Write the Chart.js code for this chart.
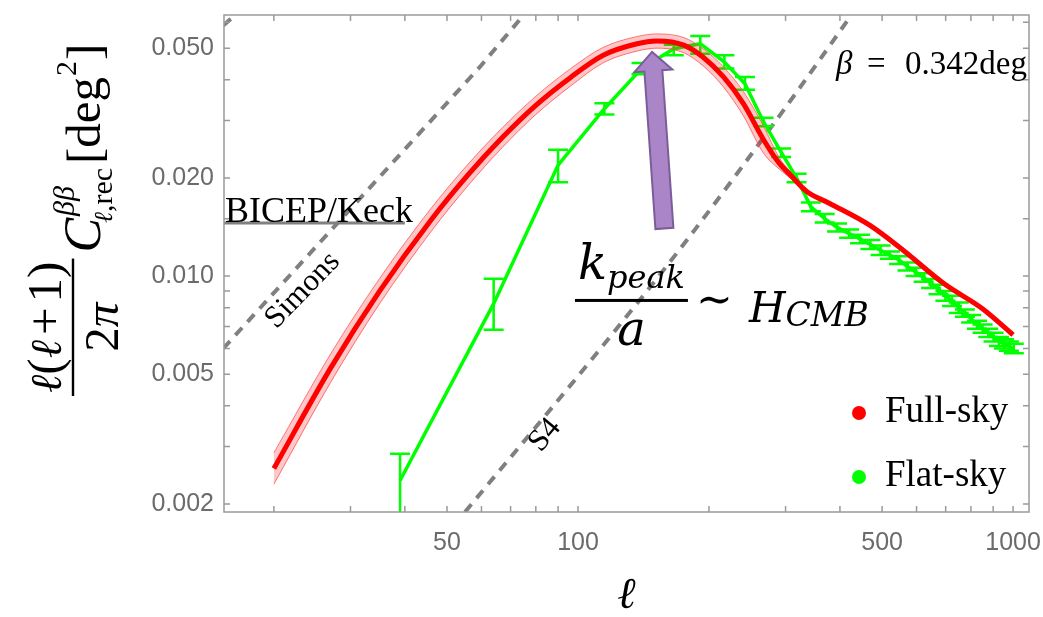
<!DOCTYPE html>
<html>
<head>
<meta charset="utf-8">
<title>Rotation spectrum</title>
<script src="https://cdn.jsdelivr.net/npm/chart.js@4.4.1/dist/chart.umd.min.js"></script>
<style>
  html, body { margin: 0; padding: 0; background: #fff; }
  #wrap { width: 1043px; height: 617px; position: relative; }
</style>
</head>
<body>
<div id="wrap"><canvas id="spectrumChart"></canvas></div>
<script>
// Full-sky curve and its pink band
const fullSkyL  = [20, 27, 35, 46, 56, 67, 80, 96, 114, 136, 152, 175, 194, 216, 240, 267, 290, 307, 335, 379, 469, 559, 692, 855, 1000];
const fullSkyV  = [0.00257, 0.00522, 0.00899, 0.01489, 0.0205, 0.0266, 0.0334, 0.0406, 0.0475, 0.0515, 0.0526, 0.0511, 0.0469, 0.0408, 0.0338, 0.0262, 0.0222, 0.0205, 0.0182, 0.0167, 0.0143, 0.0120, 0.0095, 0.0079, 0.0066];
const fullSkyLo = [0.00230, 0.00472, 0.00823, 0.01372, 0.0190, 0.0248, 0.0313, 0.0382, 0.0450, 0.0489, 0.0500, 0.0484, 0.0441, 0.0380, 0.0310, 0.0238, 0.0213, 0.0200, 0.0180, 0.0167, 0.0143, 0.0120, 0.0095, 0.0079, 0.0066];
const fullSkyHi = [0.00287, 0.00577, 0.00983, 0.01616, 0.0221, 0.0285, 0.0356, 0.0432, 0.0502, 0.0542, 0.0553, 0.0539, 0.0498, 0.0438, 0.0368, 0.0288, 0.0231, 0.0210, 0.0184, 0.0167, 0.0143, 0.0120, 0.0095, 0.0079, 0.0066];

// Flat-sky binned points with error bars
const flatSkyL  = [39, 64, 90, 115, 140, 166, 191, 217, 242, 267, 293, 318, 343, 369, 394, 420, 445, 470, 496, 521, 547, 572, 597, 623, 648, 674, 699, 724, 750, 775, 801, 826, 851, 877, 902, 928, 953, 978, 1004];
const flatSkyV  = [0.00236, 0.00823, 0.0219, 0.0326, 0.0433, 0.0498, 0.0516, 0.0453, 0.0389, 0.0297, 0.0240, 0.0200, 0.0163, 0.0150, 0.0141, 0.0135, 0.0130, 0.0125, 0.0120, 0.0116, 0.0112, 0.0107, 0.0103, 0.0099, 0.0095, 0.0091, 0.0087, 0.0084, 0.0080, 0.0077, 0.0074, 0.0071, 0.0069, 0.0067, 0.0065, 0.0063, 0.0062, 0.0061, 0.0060];
const flatSkyLo = [0.0012, 0.00685, 0.0194, 0.0313, 0.0416, 0.0476, 0.0481, 0.0433, 0.0373, 0.0288, 0.0232, 0.0194, 0.0158, 0.0146, 0.0137, 0.0131, 0.0126, 0.0121, 0.0116, 0.0113, 0.0109, 0.0104, 0.0100, 0.0096, 0.0092, 0.0088, 0.0084, 0.0081, 0.0077, 0.0075, 0.0072, 0.0069, 0.0067, 0.0065, 0.0063, 0.0061, 0.0060, 0.0059, 0.0058];
const flatSkyHi = [0.00285, 0.00982, 0.0244, 0.0339, 0.0450, 0.0512, 0.0545, 0.0476, 0.0408, 0.0306, 0.0246, 0.0206, 0.0168, 0.0155, 0.0145, 0.0139, 0.0134, 0.0129, 0.0124, 0.0119, 0.0115, 0.0110, 0.0106, 0.0102, 0.0098, 0.0094, 0.0090, 0.0087, 0.0083, 0.0079, 0.0076, 0.0073, 0.0071, 0.0069, 0.0067, 0.0065, 0.0064, 0.0063, 0.0062];

// Experimental noise curves (gray dashed) and the BICEP/Keck bound
const simonsL = [15.3, 59.5, 75];
const simonsV = [0.0060, 0.0438, 0.0632];
const s4L = [55, 111, 178, 315, 425];
const s4V = [0.00189, 0.00585, 0.0129, 0.036, 0.0632];
const cornerL = [15.3, 16.3];
const cornerV = [0.0587, 0.0632];
const bicepL = [15.3, 40];
const bicepV = [0.01454, 0.01454];

// Axis ticks
const xTickValues = [20, 30, 40, 50, 60, 70, 80, 90, 100, 200, 300, 400, 500, 600, 700, 800, 900, 1000];
const xLabelValues = [50, 100, 500, 1000];
const xLabelText = ['50', '100', '500', '1000'];
const yTickValues = [0.002, 0.003, 0.004, 0.005, 0.006, 0.007, 0.008, 0.009, 0.01, 0.015, 0.02, 0.03, 0.04, 0.05, 0.06];
const yLabelValues = [0.002, 0.005, 0.01, 0.02, 0.05];
const yLabelText = ['0.002', '0.005', '0.010', '0.020', '0.050'];

// Where the annotations sit, in data coordinates
const betaText = 'β = 0.342deg';
const betaAt = [392, 0.0416];
const simonsTextAt = [23.3, 0.00904];
const s4TextAt = [84, 0.00325];
const peakFracAt = [98.4, 0.00842];
const arrowBase = [158, 0.0140];
const arrowTip = [148, 0.0487];

const SERIF = '"Liberation Serif", "Times New Roman", serif';
const MATH = '"DejaVu Serif", serif';
const GRAY = 'rgb(128,128,128)';

function pts(xs, ys) {
    return xs.map((x, i) => ({ x: x, y: ys[i] }));
}

// draw a sequence of text pieces [text, font, dy, extraGap]
function runsWidth(ctx, runs) {
    let w = 0;
    runs.forEach(r => { ctx.font = r[1]; w += ctx.measureText(r[0]).width + (r[3] || 0); });
    return w;
}
function drawRuns(ctx, runs, x, y) {
    runs.forEach(r => {
        ctx.font = r[1];
        ctx.fillText(r[0], x, y + (r[2] || 0));
        x += ctx.measureText(r[0]).width + (r[3] || 0);
    });
    return x;
}

function drawErrorBars(chart) {
    const { ctx, chartArea: a, scales: { x, y } } = chart;
    ctx.save();
    ctx.beginPath();
    ctx.rect(a.left, a.top, a.right - a.left, a.bottom - a.top);
    ctx.clip();
    ctx.strokeStyle = 'rgb(0,255,0)';
    ctx.lineWidth = 2.5;
    flatSkyL.forEach((l, i) => {
        const cx = x.getPixelForValue(l);
        const yLo = y.getPixelForValue(flatSkyLo[i]);
        const yHi = y.getPixelForValue(flatSkyHi[i]);
        ctx.beginPath();
        ctx.moveTo(cx, yLo); ctx.lineTo(cx, yHi);
        ctx.moveTo(cx - 10, yHi); ctx.lineTo(cx + 10, yHi);
        ctx.moveTo(cx - 10, yLo); ctx.lineTo(cx + 10, yLo);
        ctx.stroke();
    });
    ctx.restore();
}

function drawFrame(chart) {
    const { ctx, chartArea: a, scales: { x, y } } = chart;
    ctx.save();
    ctx.strokeStyle = '#9a9a9a';
    ctx.lineWidth = 1.5;
    ctx.strokeRect(a.left, a.top, a.right - a.left, a.bottom - a.top);
    ctx.beginPath();
    xTickValues.forEach(t => {
        const p = x.getPixelForValue(t);
        ctx.moveTo(p, a.bottom); ctx.lineTo(p, a.bottom - 6);
        ctx.moveTo(p, a.top); ctx.lineTo(p, a.top + 6);
    });
    yTickValues.forEach(t => {
        const p = y.getPixelForValue(t);
        ctx.moveTo(a.left, p); ctx.lineTo(a.left + 6, p);
        ctx.moveTo(a.right, p); ctx.lineTo(a.right - 6, p);
    });
    ctx.stroke();
    ctx.restore();
}

function drawArrow(ctx, x0, y0, x1, y1) {
    const dx = x1 - x0, dy = y1 - y0, len = Math.hypot(dx, dy);
    const ux = dx / len, uy = dy / len, nx = -uy, ny = ux;
    const sw = 9, hw = 19, hl = 19;
    const hx = x1 - ux * hl, hy = y1 - uy * hl;
    ctx.beginPath();
    ctx.moveTo(x0 + nx * sw, y0 + ny * sw);
    ctx.lineTo(hx + nx * sw, hy + ny * sw);
    ctx.lineTo(hx + nx * hw, hy + ny * hw);
    ctx.lineTo(x1, y1);
    ctx.lineTo(hx - nx * hw, hy - ny * hw);
    ctx.lineTo(hx - nx * sw, hy - ny * sw);
    ctx.lineTo(x0 - nx * sw, y0 - ny * sw);
    ctx.closePath();
    ctx.fill();
    ctx.stroke();
}

function drawAnnotations(chart) {
    const { ctx, chartArea: a, scales: { x, y } } = chart;
    ctx.save();
    ctx.fillStyle = '#000';
    ctx.textBaseline = 'alphabetic';

    // BICEP/Keck label sitting on its line
    ctx.font = '36px ' + SERIF;
    ctx.textAlign = 'left';
    ctx.fillText('BICEP/Keck', a.left + 1, y.getPixelForValue(bicepV[0]) - 1);

    // rotated labels along the dashed lines
    [[ 'Simons', simonsTextAt, -46 ], [ 'S4', s4TextAt, -50 ]].forEach(([t, at, deg]) => {
        ctx.save();
        ctx.translate(x.getPixelForValue(at[0]), y.getPixelForValue(at[1]));
        ctx.rotate(deg * Math.PI / 180);
        ctx.font = '31px ' + SERIF;
        ctx.textAlign = 'center';
        ctx.textBaseline = 'middle';
        ctx.fillText(t, 0, 0);
        ctx.restore();
    });

    // beta value, top right
    const bx = x.getPixelForValue(betaAt[0]), by = y.getPixelForValue(betaAt[1]);
    ctx.font = 'italic 33px ' + SERIF;
    ctx.fillText(betaText.slice(0, 1), bx, by);
    ctx.font = '33px ' + SERIF;
    ctx.fillText('=', bx + 31, by);
    ctx.fillText(betaText.slice(4), bx + 69, by);

    // purple arrow pointing at the peak
    ctx.fillStyle = '#aa86c8';
    ctx.strokeStyle = '#7b5d99';
    ctx.lineWidth = 2;
    drawArrow(ctx, x.getPixelForValue(arrowBase[0]), y.getPixelForValue(arrowBase[1]),
              x.getPixelForValue(arrowTip[0]), y.getPixelForValue(arrowTip[1]));

    // k_peak / a ~ H_CMB
    ctx.fillStyle = '#000';
    const fx = x.getPixelForValue(peakFracAt[0]), fy = y.getPixelForValue(peakFracAt[1]);
    const barW = 113;
    const num = [['k', 'italic 48px ' + MATH], ['peak', 'italic 32px ' + MATH, 9]];
    drawRuns(ctx, num, fx + (barW - runsWidth(ctx, num)) / 2, fy - 21);
    ctx.fillRect(fx, fy - 1.5, barW, 3);
    const den = [['a', 'italic 48px ' + MATH]];
    drawRuns(ctx, den, fx + (barW - runsWidth(ctx, den)) / 2, fy + 45);
    ctx.font = '44px ' + MATH;
    ctx.textBaseline = 'middle';
    ctx.fillText('∼', fx + 121, fy + 2);
    ctx.textBaseline = 'alphabetic';
    drawRuns(ctx, [['H', 'italic 42px ' + MATH], ['CMB', 'italic 33px ' + MATH, 4]], fx + 174, fy + 22);

    ctx.restore();
}

function drawLegend(chart) {
    const { ctx, chartArea: a } = chart;
    const items = [chart.data.datasets[0], chart.data.datasets[3]];
    ctx.save();
    items.forEach((ds, i) => {
        const cy = a.bottom - 99 + i * 64;
        ctx.fillStyle = ds.borderColor;
        ctx.beginPath();
        ctx.arc(a.right - 170, cy, 7, 0, Math.PI * 2);
        ctx.fill();
        ctx.fillStyle = '#000';
        ctx.font = '37px ' + SERIF;
        ctx.textBaseline = 'alphabetic';
        ctx.fillText(ds.label, a.right - 144, cy + 9);
    });
    ctx.restore();
}

function drawTitles(chart) {
    const { ctx, chartArea: a } = chart;
    ctx.save();
    ctx.fillStyle = '#000';
    ctx.textBaseline = 'alphabetic';

    // x title
    ctx.font = 'italic 44px ' + MATH;
    ctx.textAlign = 'center';
    ctx.fillText('ℓ', (a.left + a.right) / 2, 608);
    ctx.textAlign = 'left';

    // y title, rotated
    ctx.translate(73, 396);
    ctx.rotate(-Math.PI / 2);
    const big = '49px ' + SERIF, bigI = 'italic 49px ' + SERIF;
    const ell = 'italic 44px ' + MATH;
    const num = [['ℓ', ell], ['(', big], ['ℓ', ell, 0, 5], ['+', big, 0, 5], ['1', big], [')', big]];
    const den = [['2', big], ['π', bigI]];
    const nw = runsWidth(ctx, num), dw = runsWidth(ctx, den);
    const barLen = Math.max(nw, dw) + 6;
    drawRuns(ctx, num, (barLen - nw) / 2, -12);
    drawRuns(ctx, den, (barLen - dw) / 2, 45);
    ctx.fillRect(0, -1.2, barLen, 2.4);

    let cx = drawRuns(ctx, [['C', 'italic 52px ' + SERIF]], barLen + 6, 27);
    const supEnd = drawRuns(ctx, [['ββ', 'italic 30px ' + SERIF]], cx + 2, 1);
    const subEnd = drawRuns(ctx, [['ℓ', 'italic 26px ' + MATH], [',rec', '30px ' + SERIF]], cx - 5, 39);
    cx = Math.max(supEnd, subEnd) + 4;
    cx = drawRuns(ctx, [['[deg', big]], cx, 27);
    cx = drawRuns(ctx, [['2', '30px ' + SERIF]], cx + 1, 3);
    drawRuns(ctx, [[']', big]], cx + 1, 27);
    ctx.restore();
}

const overlayPlugin = {
    id: 'overlay',
    afterDatasetDraw(chart, args) {
        if (args.index === 3) drawErrorBars(chart);
    },
    afterDraw(chart) {
        drawFrame(chart);
        drawAnnotations(chart);
        drawLegend(chart);
        drawTitles(chart);
    }
};

// keep the tick labels from pushing the plot area around
function noScalePadding(scale) {
    scale.paddingTop = 0;
    scale.paddingBottom = 0;
    scale.paddingLeft = 0;
    scale.paddingRight = 0;
}

const dashed = { borderColor: GRAY, borderWidth: 4, borderDash: [10, 8], pointRadius: 0, fill: false, clip: 0 };

new Chart(document.getElementById('spectrumChart'), {
    type: 'line',
    data: {
        datasets: [
            { label: 'Full-sky', data: pts(fullSkyL, fullSkyV), borderColor: 'rgb(255,0,0)', borderWidth: 5,
              pointRadius: 0, fill: false, cubicInterpolationMode: 'monotone', clip: 0 },
            { label: 'band-hi', data: pts(fullSkyL, fullSkyHi), borderColor: 'rgba(255,90,90,0.8)', borderWidth: 1,
              backgroundColor: 'rgba(255,0,0,0.22)', fill: '+1', pointRadius: 0, cubicInterpolationMode: 'monotone', clip: 0 },
            { label: 'band-lo', data: pts(fullSkyL, fullSkyLo), borderColor: 'rgba(255,90,90,0.8)', borderWidth: 1,
              fill: false, pointRadius: 0, cubicInterpolationMode: 'monotone', clip: 0 },
            { label: 'Flat-sky', data: pts(flatSkyL, flatSkyV), borderColor: 'rgb(0,255,0)', borderWidth: 3.5,
              pointRadius: 0, fill: false, tension: 0, clip: 0 },
            Object.assign({ label: 'Simons', data: pts(simonsL, simonsV) }, dashed),
            Object.assign({ label: 'S4', data: pts(s4L, s4V), cubicInterpolationMode: 'monotone' }, dashed),
            Object.assign({ label: 'corner', data: pts(cornerL, cornerV) }, dashed),
            { label: 'BICEP/Keck', data: pts(bicepL, bicepV), borderColor: GRAY, borderWidth: 3,
              pointRadius: 0, fill: false, clip: 0 }
        ]
    },
    options: {
        responsive: true,
        maintainAspectRatio: false,
        animation: false,
        layout: { padding: { top: 15, right: 14, left: 0, bottom: 0 } },
        plugins: {
            legend: { display: false },
            tooltip: { enabled: false }
        },
        scales: {
            x: {
                type: 'logarithmic',
                min: 15.36,
                max: 1088,
                grid: { display: false, drawTicks: false },
                border: { display: false },
                afterBuildTicks: scale => { scale.ticks = xTickValues.map(v => ({ value: v })); },
                afterFit: scale => { scale.height = 105; noScalePadding(scale); },
                ticks: {
                    autoSkip: false,
                    maxRotation: 0,
                    padding: 16,
                    color: '#6b6b6b',
                    font: { family: '"Liberation Sans", Arial, sans-serif', size: 25 },
                    callback: v => {
                        const i = xLabelValues.indexOf(v);
                        return i >= 0 ? xLabelText[i] : '';
                    }
                }
            },
            y: {
                type: 'logarithmic',
                min: 0.00189,
                max: 0.0632,
                grid: { display: false, drawTicks: false },
                border: { display: false },
                afterBuildTicks: scale => { scale.ticks = yTickValues.map(v => ({ value: v })); },
                afterFit: scale => { scale.width = 224; noScalePadding(scale); },
                ticks: {
                    autoSkip: false,
                    padding: 10,
                    color: '#6b6b6b',
                    font: { family: '"Liberation Sans", Arial, sans-serif', size: 25 },
                    callback: v => {
                        const i = yLabelValues.indexOf(v);
                        return i >= 0 ? yLabelText[i] : '';
                    }
                }
            }
        }
    },
    plugins: [overlayPlugin]
});
</script>
</body>
</html>
